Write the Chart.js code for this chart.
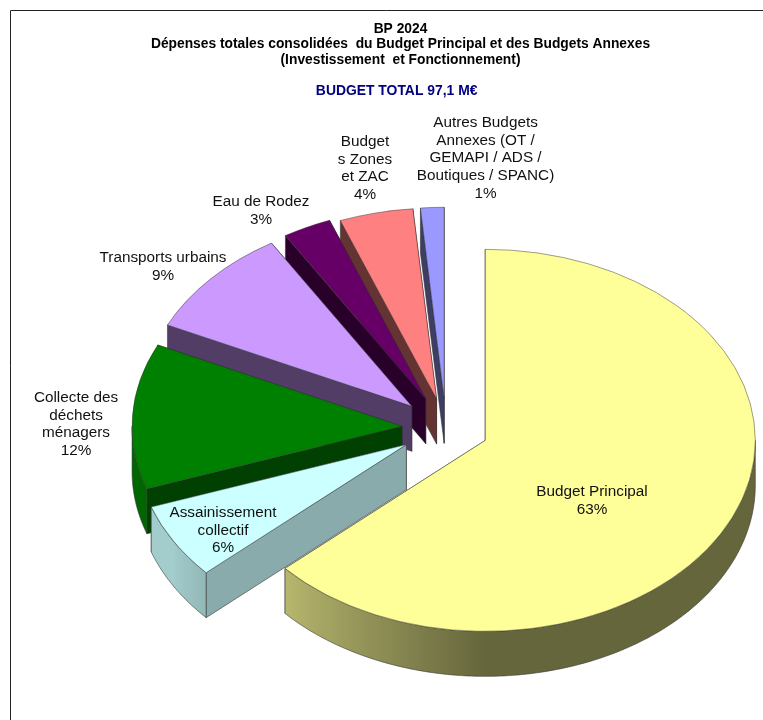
<!DOCTYPE html>
<html>
<head>
<meta charset="utf-8">
<title>BP 2024</title>
<script src="https://cdn.jsdelivr.net/npm/chart.js@4/dist/chart.umd.min.js"></script>
<style>
    html, body { margin: 0; padding: 0; background: #fff; }
    canvas { display: block; }
</style>
</head>
<body>
<canvas id="budgetChart" width="763" height="720"></canvas>
<script>
const TITLE_LINES = [
    'BP 2024',
    'Dépenses totales consolidées  du Budget Principal et des Budgets Annexes',
    '(Investissement  et Fonctionnement)'
];
// trailing spaces pull it a little left of the title's centre, as in the picture
const SUBTITLE = 'BUDGET TOTAL 97,1 M€  ';

const categories = ['Budget Principal', 'Assainissement collectif', 'Collecte des déchets ménagers',
    'Transports urbains', 'Eau de Rodez', 'Budgets Zones et ZAC', 'Autres Budgets Annexes'];
const shares = [63.3, 6.4, 12.3, 9.3, 2.9, 4.4, 1.4];
const percentLabels = ['63%', '6%', '12%', '9%', '3%', '4%', '1%'];

// text as wrapped in the picture
const labelLines = [
    ['Budget Principal'],
    ['Assainissement', 'collectif'],
    ['Collecte des', 'déchets', 'ménagers'],
    ['Transports urbains'],
    ['Eau de Rodez'],
    ['Budget', 's Zones', 'et ZAC'],
    ['Autres Budgets', 'Annexes (OT /', 'GEMAPI / ADS /', 'Boutiques / SPANC)']
];
const labelX = [592, 223, 76, 163, 261, 365, 485.5];
const labelTop = [492, 513, 398, 258, 202, 142, 123];

const topColors = ['#FFFF99', '#CCFFFF', '#008000', '#CC99FF', '#660066', '#FF8080', '#9999FF'];
const rimRgb = [[255, 255, 153], [204, 255, 255], [0, 128, 0], [204, 153, 255], [102, 0, 102], [255, 128, 128], [153, 153, 255]];
const cutColors = ['#666639', '#8AABAB', '#004000', '#523D66', '#290029', '#663333', '#3D3D66'];
const explode = [43, 46, 44, 46, 46, 42, 42];

const PIE_X = 446, PIE_Y = 428, RADIUS = 270, SQUASH = 191 / 270, DEPTH = 45;
const OUTLINE = 'rgba(50, 50, 50, 0.75)';

function rimShade(a) {
    // a = canvas angle in radians, 90deg is straight down
    const deg = a * 180 / Math.PI;
    if (deg <= 90) return 0.4;
    return Math.min(0.8, 0.4 + (deg - 90) / 48 * 0.32);
}

function drawSlice(ctx, arc, i) {
    const start = arc.startAngle, end = arc.endAngle, mid = (start + end) / 2;
    const ax = PIE_X + Math.cos(mid) * explode[i];
    const ay = PIE_Y + Math.sin(mid) * explode[i] * SQUASH;
    const r = arc.outerRadius;
    const px = a => ax + Math.cos(a) * r;
    const py = a => ay + Math.sin(a) * r * SQUASH;

    ctx.lineWidth = 0.75;
    ctx.lineJoin = 'round';
    ctx.strokeStyle = OUTLINE;

    // cut faces, back one first
    [end, start].forEach(a => {
        ctx.beginPath();
        ctx.moveTo(ax, ay);
        ctx.lineTo(px(a), py(a));
        ctx.lineTo(px(a), py(a) + DEPTH);
        ctx.lineTo(ax, ay + DEPTH);
        ctx.closePath();
        ctx.fillStyle = cutColors[i];
        ctx.fill();
        ctx.stroke();
    });

    // outer wall, only the part facing the viewer
    const from = Math.max(start, 0), to = Math.min(end, Math.PI);
    if (to > from) {
        const step = Math.PI / 180;
        const angles = [];
        for (let a = from; a < to; a += step) angles.push(a);
        angles.push(to);

        const grad = ctx.createLinearGradient(px(from), 0, px(to), 0);
        angles.forEach(a => {
            const t = (px(a) - px(from)) / (px(to) - px(from));
            const c = rimRgb[i].map(v => Math.round(v * rimShade(a)));
            grad.addColorStop(Math.min(1, Math.max(0, t)), `rgb(${c[0]},${c[1]},${c[2]})`);
        });

        ctx.beginPath();
        angles.forEach((a, n) => n ? ctx.lineTo(px(a), py(a)) : ctx.moveTo(px(a), py(a)));
        angles.slice().reverse().forEach(a => ctx.lineTo(px(a), py(a) + DEPTH));
        ctx.closePath();
        ctx.fillStyle = grad;
        ctx.fill();
        ctx.stroke();
    }

    // top surface, drawn by the arc element itself under a flattening transform
    ctx.save();
    ctx.translate(ax, ay);
    ctx.scale(1, SQUASH);
    ctx.translate(-arc.x, -arc.y);
    arc.draw(ctx);
    ctx.restore();
}

const pie3d = {
    id: 'pie3d',
    beforeDraw(chart) {
        const ctx = chart.ctx;
        ctx.save();
        ctx.fillStyle = '#fff';
        ctx.fillRect(0, 0, chart.width, chart.height);
        ctx.strokeStyle = '#222';
        ctx.lineWidth = 1;
        ctx.beginPath();
        ctx.moveTo(10.5, chart.height);
        ctx.lineTo(10.5, 10.5);
        ctx.lineTo(chart.width, 10.5);
        ctx.stroke();
        ctx.restore();
    },
    beforeDatasetDraw(chart, args) {
        const ctx = chart.ctx;
        const arcs = args.meta.data;
        ctx.save();
        // back to front
        [6, 5, 4, 3, 2, 1, 0].forEach(i => drawSlice(ctx, arcs[i], i));
        ctx.restore();
        return false;
    },
    afterDatasetsDraw(chart) {
        const ctx = chart.ctx;
        ctx.save();
        ctx.font = '15.3px "Liberation Sans", Arial, sans-serif';
        ctx.fillStyle = '#111';
        ctx.textAlign = 'center';
        ctx.textBaseline = 'middle';
        labelLines.forEach((lines, i) => {
            const rows = lines.concat(percentLabels[i]);
            rows.forEach((t, j) => ctx.fillText(t, labelX[i], labelTop[i] + j * 17.6));
        });
        ctx.restore();
    }
};

new Chart(document.getElementById('budgetChart'), {
    type: 'pie',
    data: {
        labels: categories,
        datasets: [{
            data: shares,
            backgroundColor: topColors,
            borderColor: OUTLINE,
            borderWidth: 0.75,
            borderJoinStyle: 'round'
        }]
    },
    options: {
        responsive: false,
        animation: false,
        events: [],
        radius: RADIUS,
        layout: { padding: { left: 38 } },
        plugins: {
            legend: { display: false },
            tooltip: { enabled: false },
            title: {
                display: true,
                text: TITLE_LINES,
                color: '#000',
                font: { family: '"Liberation Sans", Arial, sans-serif', size: 13.8, weight: 'bold', lineHeight: 1.14 },
                padding: { top: 21, bottom: 15 }
            },
            subtitle: {
                display: true,
                text: SUBTITLE,
                color: '#000080',
                font: { family: '"Liberation Sans", Arial, sans-serif', size: 13.9, weight: 'bold' },
                padding: { bottom: 0 }
            }
        }
    },
    plugins: [pie3d]
});
</script>
</body>
</html>
